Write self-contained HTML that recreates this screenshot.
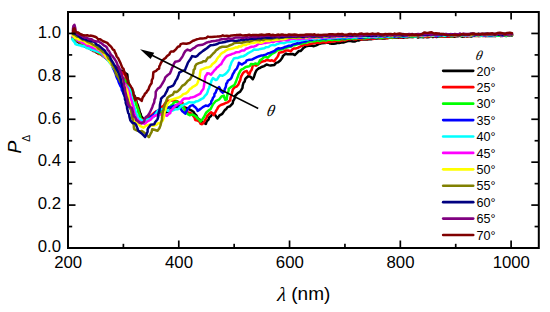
<!DOCTYPE html>
<html><head><meta charset="utf-8"><style>
html,body{margin:0;padding:0;background:#fff;}
body{width:550px;height:312px;overflow:hidden;}
svg{display:block;}
.tl{font-family:"Liberation Sans",sans-serif;font-size:16.8px;fill:#000;}
.lg{font-family:"Liberation Sans",sans-serif;font-size:12.6px;fill:#000;}
.th{font-family:"Liberation Serif",serif;font-style:italic;font-size:13.6px;fill:#000;}
.ax{font-family:"Liberation Sans",sans-serif;font-size:17.5px;fill:#000;}
</style></head><body>
<svg width="550" height="312" viewBox="0 0 550 312">
<g fill="none" stroke-width="2.5" stroke-linejoin="round" stroke-linecap="round">
<path d="M72.8,38.0 L74.3,39.5 L76.2,40.6 L77.6,41.8 L79.2,42.9 L81.1,43.5 L83.2,45.2 L84.7,46.5 L86.8,47.2 L88.5,47.7 L89.9,48.9 L91.7,49.8 L93.3,50.9 L94.9,51.1 L96.5,52.5 L98.5,53.2 L100.3,53.7 L102.3,54.8 L104.0,56.7 L105.8,58.1 L107.8,59.9 L109.8,61.2 L111.7,63.0 L113.5,64.8 L114.5,66.0 L116.2,66.9 L117.7,69.0 L119.9,70.3 L121.9,71.0 L124.1,72.4 L125.3,73.1 L127.3,74.3 L127.6,77.1 L127.6,78.9 L128.2,80.4 L128.5,82.6 L129.5,85.5 L130.6,87.4 L131.8,89.4 L132.3,91.1 L133.1,92.3 L133.5,94.7 L134.4,95.5 L135.3,97.3 L135.9,99.7 L136.5,101.3 L136.9,103.4 L137.6,104.5 L138.0,106.0 L138.9,108.6 L139.2,109.5 L139.9,112.5 L140.7,113.9 L141.0,115.8 L142.3,117.5 L143.7,119.3 L147.1,120.3 L148.2,118.9 L149.8,118.0 L151.9,117.3 L154.2,116.0 L156.1,115.1 L158.1,114.3 L160.0,113.5 L162.2,113.7 L164.9,112.6 L167.7,111.8 L169.3,110.8 L171.3,108.6 L172.7,107.7 L175.2,107.1 L177.2,106.9 L179.0,106.0 L181.3,106.7 L183.3,106.7 L185.4,107.6 L187.4,108.2 L189.3,109.4 L191.2,110.3 L193.4,111.7 L195.0,114.3 L196.4,115.5 L197.5,117.8 L199.2,119.4 L200.3,120.1 L201.7,121.8 L203.9,122.9 L205.9,124.0 L206.7,121.4 L208.5,119.7 L209.3,117.3 L211.1,115.9 L212.2,114.3 L214.5,113.6 L215.7,116.0 L217.5,118.4 L219.6,115.3 L222.3,113.8 L223.6,111.9 L224.8,110.1 L226.3,108.9 L227.5,107.1 L230.1,106.2 L232.7,103.4 L233.1,101.0 L234.2,99.4 L235.0,97.3 L235.1,95.8 L237.6,93.3 L240.2,91.6 L241.3,89.9 L242.5,87.8 L242.7,85.7 L243.6,82.7 L244.7,81.6 L245.2,79.2 L245.9,78.2 L248.4,76.0 L250.6,76.9 L252.7,79.3 L253.7,77.5 L254.3,75.9 L254.9,73.8 L256.1,71.1 L257.2,69.6 L258.9,68.2 L260.4,67.7 L262.3,66.7 L264.1,66.1 L266.5,64.5 L268.6,65.1 L270.6,65.6 L272.2,65.3 L274.4,64.9 L276.1,62.9 L277.8,62.4 L280.3,60.4 L281.4,59.0 L282.5,57.4 L282.9,55.9 L286.0,53.6 L287.5,54.3 L289.5,54.2 L292.5,53.9 L294.8,55.0 L296.3,53.6 L298.9,51.0 L300.6,51.0 L302.0,49.7 L303.5,47.8 L306.2,46.2 L308.7,45.8 L311.3,45.5 L313.9,46.2 L316.2,45.3 L318.7,44.1 L321.6,43.3 L324.8,43.1 L326.3,42.7 L328.6,42.5 L330.2,43.6 L331.8,43.8 L333.8,43.7 L335.6,43.6 L337.3,42.9 L339.2,42.9 L341.5,42.6 L343.3,42.5 L344.7,42.0 L347.1,41.2 L348.7,41.0 L350.8,41.0 L353.0,41.5 L355.1,41.4 L357.0,40.4 L358.6,40.5 L360.2,39.8 L362.5,39.6 L363.9,39.3 L366.3,39.4 L367.6,39.5 L369.4,39.1 L371.1,39.3 L373.0,38.6 L374.9,38.2 L376.8,38.5 L379.2,38.3 L380.8,38.3 L382.4,38.4 L384.7,38.6 L386.6,38.1 L388.2,38.0 L390.6,37.5 L392.4,37.8 L394.1,37.6 L396.1,37.8 L398.4,37.8 L399.7,37.4 L402.1,37.8 L403.4,37.8 L405.1,36.9 L407.2,37.2 L409.1,36.9 L410.8,36.8 L412.8,37.1 L414.2,36.8 L416.7,36.8 L418.0,37.6 L420.0,36.8 L421.9,37.0 L423.4,37.3 L425.2,36.4 L427.1,37.3 L429.3,36.9 L431.0,36.2 L432.9,37.1 L434.7,36.4 L436.5,37.0 L438.4,36.6 L440.2,36.6 L441.8,36.1 L443.7,36.6 L445.6,36.5 L447.5,36.7 L448.9,36.7 L451.1,36.6 L452.7,36.6 L454.5,36.7 L456.6,36.1 L457.9,36.3 L459.7,35.6 L462.1,36.7 L464.0,36.6 L465.8,35.8 L467.1,36.6 L468.8,36.1 L471.2,36.5 L472.5,36.0 L474.2,35.7 L476.6,35.4 L478.3,35.9 L479.8,36.1 L481.7,35.6 L483.8,35.3 L485.9,36.1 L487.5,35.9 L489.2,35.7 L491.4,35.9 L493.4,35.8 L495.0,36.0 L496.6,35.7 L498.8,35.1 L500.8,36.1 L502.4,35.4 L504.2,35.6 L506.2,36.0 L508.1,35.2 L510.1,35.8 L512.0,35.5" stroke="#000000"/>
<path d="M72.8,38.5 L74.6,39.0 L76.0,39.8 L77.4,40.8 L79.3,42.3 L81.2,43.4 L83.3,44.5 L85.2,45.9 L86.4,46.5 L88.1,47.2 L89.9,48.5 L91.5,48.7 L92.8,50.5 L94.3,51.0 L96.5,51.5 L97.7,53.1 L99.2,54.1 L100.8,54.3 L102.5,55.9 L104.4,56.9 L106.1,58.2 L108.3,59.9 L109.9,61.1 L111.4,63.3 L112.7,64.5 L113.7,65.2 L115.4,66.7 L116.8,68.9 L117.9,69.9 L120.2,71.3 L121.7,72.3 L123.7,73.7 L125.5,75.5 L125.7,78.9 L125.8,80.8 L126.5,83.2 L127.2,84.3 L127.9,86.1 L129.2,88.5 L129.8,90.1 L130.7,91.1 L131.7,93.5 L132.7,94.5 L134.0,97.5 L135.0,98.9 L135.5,100.8 L136.3,102.5 L136.7,105.1 L137.3,107.0 L138.0,108.2 L138.3,110.4 L138.6,112.4 L139.5,113.8 L139.5,115.1 L140.0,117.3 L141.9,119.2 L143.2,121.3 L145.9,119.8 L148.2,118.1 L149.7,116.1 L151.7,115.0 L154.3,112.8 L155.9,111.5 L157.9,110.6 L159.3,109.8 L160.8,108.8 L162.1,106.5 L163.5,105.8 L164.5,104.2 L165.7,102.5 L167.6,101.4 L168.9,100.7 L171.4,100.5 L173.5,100.6 L174.8,100.7 L177.3,101.2 L179.1,102.5 L180.8,103.0 L182.6,102.8 L183.1,104.5 L184.2,107.2 L184.6,108.8 L185.4,109.8 L186.7,112.1 L188.3,112.4 L190.4,113.0 L191.3,113.8 L192.6,115.3 L194.4,117.3 L195.2,120.0 L197.4,120.5 L199.5,121.8 L200.5,123.8 L202.1,124.2 L203.3,123.0 L204.3,121.6 L205.1,119.9 L206.6,117.8 L207.0,116.1 L208.9,114.0 L211.1,112.2 L212.4,113.3 L213.7,115.1 L214.9,113.3 L216.3,110.4 L217.3,108.9 L218.0,107.4 L219.2,106.0 L221.5,104.7 L223.6,104.0 L225.5,103.2 L227.5,102.4 L230.3,100.2 L230.4,98.2 L230.8,96.7 L231.5,94.7 L231.9,93.2 L232.4,91.4 L232.8,89.5 L234.7,87.2 L236.5,86.6 L238.3,84.7 L239.1,82.6 L240.4,79.9 L240.6,78.1 L241.3,76.2 L243.0,73.2 L244.6,71.6 L246.8,71.0 L248.0,73.3 L249.3,74.5 L250.5,71.3 L251.6,69.9 L252.0,68.7 L253.0,64.6 L256.0,65.7 L257.6,64.8 L259.8,63.1 L261.1,62.0 L262.5,61.5 L264.7,61.1 L266.4,60.0 L268.3,60.3 L270.2,60.7 L272.0,60.3 L274.3,61.3 L275.7,59.1 L277.1,57.5 L278.3,55.3 L279.1,52.7 L282.8,52.1 L284.2,51.3 L285.7,50.4 L288.4,50.5 L290.7,51.4 L292.3,49.4 L293.6,48.4 L296.1,48.4 L297.7,47.8 L300.7,46.3 L302.8,45.5 L304.2,44.6 L307.0,44.9 L309.3,44.3 L311.5,43.7 L314.0,43.2 L315.7,42.9 L317.7,42.5 L319.8,42.9 L321.8,42.3 L323.9,42.0 L325.8,42.7 L327.5,42.1 L330.0,41.9 L331.7,41.8 L333.4,41.5 L335.8,41.1 L337.0,41.1 L339.3,40.7 L340.8,40.9 L342.6,40.0 L344.4,40.5 L346.3,40.1 L348.5,39.2 L350.2,39.3 L352.1,38.9 L353.6,38.8 L355.7,39.6 L357.8,38.6 L359.3,38.8 L361.6,39.5 L363.1,39.1 L365.3,39.0 L367.2,39.1 L368.6,38.3 L370.9,38.4 L372.4,38.9 L374.3,38.7 L376.3,37.7 L378.5,37.7 L379.8,38.4 L381.8,37.8 L383.9,38.1 L385.3,38.1 L387.6,38.2 L389.4,37.4 L390.7,37.5 L392.5,37.9 L394.6,37.0 L396.5,37.3 L398.5,37.3 L400.1,37.2 L401.6,37.6 L403.9,36.9 L405.4,36.9 L407.2,37.3 L409.1,36.6 L410.9,36.7 L412.5,37.1 L414.4,36.7 L416.4,36.6 L418.4,36.5 L419.8,36.2 L421.8,36.2 L423.4,36.7 L425.6,37.1 L427.0,36.6 L429.3,36.2 L430.7,36.4 L432.6,35.9 L434.8,36.3 L436.4,36.4 L438.3,35.9 L439.8,36.3 L442.0,36.7 L443.6,36.4 L445.4,35.7 L447.2,36.6 L449.3,36.5 L451.2,36.1 L452.5,36.4 L454.3,35.8 L456.6,35.9 L457.9,35.4 L459.9,36.0 L462.0,35.4 L463.3,36.0 L465.4,36.0 L467.5,36.3 L469.4,35.7 L470.8,35.5 L472.7,35.4 L474.8,36.0 L476.6,36.1 L478.1,35.9 L479.8,35.3 L481.9,35.9 L483.8,35.9 L485.9,35.9 L487.7,35.1 L489.2,35.5 L491.3,35.7 L493.3,35.3 L495.1,35.9 L497.2,35.6 L498.8,35.3 L500.5,35.5 L502.6,35.9 L504.3,35.0 L506.6,35.0 L508.6,35.2 L510.3,34.9 L512.0,35.3" stroke="#ff0000"/>
<path d="M72.8,38.0 L74.2,38.6 L75.8,39.7 L77.8,40.8 L79.6,41.3 L81.0,42.2 L83.0,43.7 L84.7,44.8 L86.6,45.3 L88.2,45.8 L89.9,47.4 L91.6,48.2 L92.8,48.6 L94.4,50.1 L96.5,51.2 L97.6,51.6 L99.1,53.0 L100.8,53.8 L103.0,54.4 L104.6,56.5 L105.9,57.7 L107.1,58.9 L108.8,59.9 L109.8,62.0 L111.6,63.3 L112.4,65.4 L114.0,66.4 L114.9,68.9 L116.4,70.1 L117.4,71.1 L118.8,72.8 L120.1,74.3 L121.0,75.4 L122.2,77.5 L123.7,78.6 L124.9,80.4 L126.3,81.8 L127.2,82.7 L128.0,84.3 L128.9,86.2 L129.7,87.8 L130.8,90.4 L131.7,92.0 L133.0,94.3 L134.2,96.7 L134.5,99.1 L135.5,101.4 L135.7,103.5 L136.6,105.1 L137.1,107.5 L138.1,109.5 L138.3,111.2 L138.8,112.4 L139.4,114.2 L140.2,116.2 L140.2,117.9 L141.3,119.9 L142.4,121.9 L146.1,121.4 L147.8,119.7 L149.8,118.1 L151.8,116.7 L154.1,114.7 L155.9,114.2 L157.9,112.5 L159.9,111.5 L161.9,110.0 L164.2,109.6 L165.9,109.0 L167.8,107.9 L170.1,106.6 L171.2,105.4 L172.4,104.8 L173.9,102.5 L176.8,101.4 L178.4,103.2 L179.9,103.6 L181.1,105.9 L182.3,106.7 L184.1,108.5 L184.8,110.5 L186.2,112.3 L187.8,114.1 L189.7,115.2 L191.6,114.6 L193.6,115.0 L195.2,116.0 L196.4,116.9 L197.8,118.6 L199.1,119.6 L200.5,121.5 L202.0,119.9 L203.1,118.2 L204.1,116.7 L205.4,114.0 L206.5,112.3 L208.3,110.8 L210.7,108.9 L212.0,106.3 L213.2,104.0 L215.6,101.2 L217.3,100.4 L219.1,99.5 L221.5,96.5 L223.8,95.6 L224.4,97.8 L225.3,100.0 L226.8,99.4 L226.9,96.9 L227.4,94.9 L228.0,92.7 L228.5,91.0 L228.8,88.7 L231.7,86.6 L234.3,85.2 L235.7,82.3 L236.6,79.8 L237.5,77.4 L238.1,76.1 L238.5,74.5 L240.5,70.6 L241.6,69.4 L243.2,68.8 L245.7,66.9 L248.0,66.6 L249.7,66.1 L250.9,64.0 L253.5,64.3 L255.5,63.4 L257.9,64.3 L259.1,62.2 L259.9,60.4 L261.1,59.7 L262.9,58.3 L263.9,57.0 L266.1,57.1 L267.9,57.7 L270.0,55.5 L271.8,54.0 L273.4,53.2 L275.2,52.2 L277.0,50.5 L279.1,49.7 L280.9,49.6 L283.2,48.8 L286.1,47.7 L288.6,47.1 L290.9,46.6 L292.9,45.3 L294.5,45.3 L297.2,44.4 L299.4,43.8 L301.3,43.7 L303.5,43.1 L305.3,42.9 L307.2,42.4 L309.7,41.5 L311.9,41.0 L314.3,41.4 L315.7,41.0 L317.6,40.3 L319.9,41.1 L321.5,40.6 L323.6,40.0 L325.6,40.5 L328.1,39.8 L329.9,39.5 L331.8,40.2 L334.2,39.4 L336.1,39.7 L338.2,40.0 L339.9,39.7 L342.0,38.9 L343.4,39.3 L345.4,39.4 L347.5,38.4 L348.8,38.7 L350.8,38.2 L352.6,38.7 L354.7,38.1 L356.2,38.5 L358.2,37.9 L360.2,38.3 L361.5,37.8 L363.5,38.4 L365.2,38.2 L367.3,37.6 L369.3,37.5 L370.6,37.2 L373.0,37.6 L374.5,37.3 L376.5,37.5 L378.5,36.9 L380.1,37.9 L381.9,37.8 L383.3,37.6 L385.8,37.1 L387.5,36.7 L389.1,37.2 L390.7,37.4 L393.0,37.1 L394.7,37.2 L396.4,36.9 L398.0,36.9 L400.0,36.4 L402.0,36.3 L403.6,36.8 L405.5,36.8 L407.6,37.0 L409.1,36.0 L411.0,36.8 L412.9,36.5 L414.4,36.9 L416.4,36.4 L418.5,35.8 L420.3,36.6 L421.7,36.7 L423.5,36.3 L425.2,36.0 L427.2,36.0 L429.3,35.6 L430.9,36.1 L432.9,35.8 L434.4,35.6 L436.5,35.3 L438.2,36.2 L440.3,36.0 L441.5,36.1 L443.3,35.5 L445.3,36.1 L447.6,35.2 L449.2,35.5 L450.7,36.2 L452.9,36.1 L454.4,35.5 L456.5,35.2 L458.5,35.7 L460.0,35.2 L462.0,35.9 L463.5,35.2 L465.6,35.3 L467.2,35.9 L468.9,35.6 L470.9,35.8 L472.5,35.7 L474.8,34.9 L476.6,35.8 L477.9,35.4 L480.1,35.4 L482.0,35.6 L484.0,35.1 L485.4,35.0 L487.2,35.4 L489.6,35.8 L491.2,35.5 L493.4,35.0 L495.3,35.7 L496.9,35.7 L498.8,35.7 L500.8,34.8 L502.7,35.4 L504.6,35.0 L506.1,35.7 L508.3,34.8 L510.3,34.8 L512.0,35.2" stroke="#00ff00"/>
<path d="M72.8,36.5 L75.5,37.4 L77.6,37.5 L79.5,39.4 L81.3,39.7 L83.2,40.1 L84.8,41.0 L86.7,42.3 L88.8,43.4 L90.7,44.0 L92.4,45.5 L94.3,45.8 L96.5,47.1 L97.7,48.1 L99.8,49.6 L101.2,50.1 L102.7,51.5 L104.6,53.1 L105.7,55.1 L106.9,56.3 L107.7,58.0 L108.9,59.6 L110.0,61.4 L110.6,62.4 L111.9,65.1 L112.5,66.5 L113.2,68.6 L113.9,69.8 L114.7,71.7 L115.9,74.5 L116.1,75.7 L117.1,78.4 L117.9,79.5 L118.7,82.2 L119.6,84.1 L120.3,85.8 L121.5,87.6 L121.9,90.2 L123.0,92.0 L123.3,93.5 L124.5,95.8 L125.5,98.3 L125.8,100.5 L127.0,102.3 L128.1,103.8 L128.8,106.4 L129.7,107.9 L131.1,109.2 L131.7,110.6 L133.2,112.1 L134.0,114.4 L135.0,115.6 L136.6,117.4 L138.0,118.3 L139.8,119.9 L141.8,121.4 L144.0,121.2 L146.2,121.0 L147.9,119.7 L150.1,117.6 L151.2,116.2 L152.6,115.7 L154.3,114.1 L155.9,112.1 L157.9,110.8 L160.1,110.1 L161.8,109.2 L164.0,109.0 L166.0,108.0 L167.8,107.4 L169.9,107.5 L172.5,106.3 L174.7,105.6 L177.1,105.0 L178.2,106.3 L179.8,107.5 L181.0,109.3 L182.5,111.4 L185.2,113.6 L186.5,111.1 L187.6,109.1 L189.1,107.4 L190.4,105.9 L192.9,105.1 L194.3,106.6 L195.6,107.6 L196.9,109.1 L197.7,110.9 L200.6,108.9 L202.8,107.1 L205.6,105.6 L208.1,106.1 L209.5,104.6 L211.1,103.2 L211.3,101.3 L212.4,99.7 L213.0,97.7 L214.3,96.2 L214.5,93.8 L215.6,92.7 L216.4,90.3 L217.6,88.5 L219.0,87.0 L219.9,88.4 L220.8,91.0 L222.9,92.7 L224.3,91.4 L224.8,88.8 L225.8,86.9 L226.3,83.7 L227.2,82.7 L227.8,80.8 L230.3,79.3 L231.5,77.7 L232.9,74.0 L234.1,72.3 L234.8,70.6 L237.0,68.4 L237.7,66.3 L238.4,65.0 L238.9,62.8 L241.9,64.6 L244.2,62.9 L245.6,62.4 L246.7,60.4 L249.3,59.7 L251.9,59.6 L254.7,58.1 L257.4,56.9 L259.2,56.2 L261.0,55.6 L262.9,55.4 L264.4,54.9 L265.8,54.6 L267.7,53.5 L269.8,52.9 L272.2,51.9 L274.5,51.0 L276.2,49.3 L278.2,48.3 L280.6,48.4 L282.8,48.1 L285.0,46.9 L286.7,46.5 L289.1,45.6 L290.6,46.1 L292.8,44.6 L294.5,44.1 L297.3,43.3 L299.0,43.5 L301.8,42.1 L303.5,41.7 L305.4,41.6 L307.0,40.5 L309.7,39.9 L312.0,40.0 L314.2,39.0 L315.9,39.4 L318.0,38.9 L319.6,39.4 L321.8,38.9 L323.8,38.6 L326.0,39.2 L327.8,38.2 L329.7,38.6 L332.3,38.1 L333.9,38.3 L336.3,38.6 L338.1,37.9 L340.0,38.6 L341.9,37.8 L343.6,38.2 L345.5,38.4 L347.5,37.8 L349.4,37.8 L350.6,37.9 L352.9,37.1 L354.6,37.7 L356.5,37.0 L357.9,37.7 L360.2,37.8 L361.5,37.5 L363.8,37.6 L365.7,37.0 L367.5,37.0 L368.8,37.0 L371.1,37.0 L372.5,37.3 L374.7,37.2 L376.4,36.6 L378.0,37.1 L379.8,36.4 L381.9,36.2 L383.8,36.8 L385.7,36.6 L387.0,36.8 L389.4,36.4 L390.6,36.0 L392.5,35.9 L394.7,36.8 L396.4,36.0 L398.1,36.5 L400.0,36.0 L401.9,36.3 L403.7,36.6 L405.6,36.3 L407.1,35.9 L409.4,36.4 L411.0,35.9 L412.9,36.1 L414.8,36.0 L416.4,36.1 L418.3,35.5 L420.3,36.3 L421.8,35.9 L423.6,36.1 L425.3,35.4 L427.0,35.3 L429.4,35.6 L430.8,35.5 L432.5,35.3 L434.8,36.1 L436.6,35.8 L438.2,36.0 L439.9,35.3 L441.5,35.5 L443.9,35.5 L445.3,35.6 L447.4,35.6 L449.2,35.3 L451.1,35.0 L452.9,35.5 L454.5,35.5 L456.7,35.3 L458.2,34.9 L460.0,35.2 L461.6,34.8 L463.5,34.9 L465.3,35.1 L467.6,35.8 L469.1,34.9 L470.8,35.3 L472.7,35.3 L474.4,35.4 L476.3,35.0 L478.4,34.9 L479.8,35.2 L482.0,34.7 L483.6,35.4 L486.0,35.6 L487.5,35.5 L489.5,35.6 L491.3,35.2 L493.1,35.5 L495.3,35.3 L497.2,34.7 L498.7,34.8 L500.8,34.6 L502.7,35.5 L504.7,34.6 L506.7,34.8 L508.0,34.6 L510.1,35.1 L512.0,35.0" stroke="#0000ff"/>
<path d="M72.3,39.2 L73.7,41.2 L74.7,42.4 L75.4,44.0 L77.3,44.8 L80.6,45.5 L82.5,46.3 L84.1,46.1 L87.2,48.3 L89.0,48.3 L91.0,49.4 L92.7,50.1 L94.6,50.4 L96.1,51.3 L97.7,51.7 L99.3,52.0 L101.3,53.2 L102.7,55.0 L103.9,56.5 L105.7,57.7 L107.0,59.4 L108.4,60.3 L109.3,62.2 L111.0,64.2 L112.3,65.4 L112.9,67.0 L113.7,68.0 L115.2,70.4 L116.0,71.1 L116.9,73.6 L117.7,75.2 L119.0,76.2 L120.3,77.7 L121.1,80.1 L122.8,81.2 L123.7,83.5 L125.3,84.7 L126.5,86.2 L127.9,87.5 L129.7,88.3 L130.3,91.2 L130.6,92.8 L131.1,95.3 L131.6,97.1 L131.9,99.3 L132.6,101.1 L133.2,102.8 L133.6,105.4 L134.0,107.1 L135.0,108.6 L135.8,111.5 L136.0,113.1 L137.3,114.9 L137.5,117.5 L140.1,119.2 L141.7,120.1 L144.3,121.0 L147.4,119.7 L149.8,119.0 L152.0,117.9 L154.1,116.4 L155.8,113.9 L157.3,111.6 L158.3,110.4 L160.1,109.4 L162.7,109.0 L166.1,109.9 L167.8,110.9 L170.1,110.6 L171.7,110.9 L174.1,109.8 L176.2,109.1 L178.1,109.2 L179.4,108.0 L180.8,106.6 L182.6,105.5 L184.8,104.2 L186.5,103.8 L188.8,102.2 L190.1,102.3 L192.4,102.4 L194.1,102.6 L196.0,101.4 L198.2,101.0 L200.0,99.9 L201.7,98.9 L203.2,98.2 L204.5,96.4 L206.6,94.2 L207.7,91.8 L208.2,89.7 L209.2,87.7 L209.6,86.5 L210.3,84.1 L211.0,82.6 L211.5,80.6 L212.9,78.1 L215.9,80.1 L217.0,79.7 L218.1,77.8 L220.0,75.1 L222.5,75.8 L225.3,74.1 L227.5,71.9 L228.5,70.3 L229.4,68.8 L229.9,66.5 L230.7,64.7 L231.6,62.1 L232.9,60.1 L233.8,58.5 L235.8,58.0 L238.0,57.9 L240.0,57.0 L241.5,56.5 L243.6,56.2 L245.4,55.2 L248.3,53.1 L250.3,52.0 L252.2,51.0 L254.0,49.6 L256.0,49.8 L258.8,49.4 L261.5,48.7 L264.2,48.3 L266.1,47.2 L268.5,47.1 L270.2,45.6 L272.5,44.9 L274.9,45.3 L276.9,44.1 L278.6,43.7 L280.7,42.9 L282.5,42.9 L284.3,43.2 L286.3,42.4 L288.3,41.7 L290.4,42.1 L292.4,41.5 L294.9,41.2 L296.3,40.2 L298.1,40.7 L300.1,40.5 L301.8,40.2 L304.0,39.7 L305.9,39.2 L307.4,39.6 L309.3,38.7 L311.4,38.4 L313.1,38.9 L315.0,39.2 L316.6,38.3 L318.6,38.7 L321.0,38.3 L322.7,38.1 L324.5,37.8 L326.5,38.1 L328.3,38.5 L330.1,38.5 L332.0,37.9 L334.1,37.8 L336.0,37.8 L338.1,37.4 L339.9,37.4 L341.8,37.2 L343.7,37.2 L345.5,37.3 L347.3,37.5 L348.8,36.9 L351.0,37.3 L352.5,37.5 L354.5,37.3 L356.4,37.5 L358.3,36.9 L360.0,36.6 L361.9,36.5 L363.9,36.7 L365.8,36.8 L367.1,36.7 L369.0,37.0 L370.8,36.6 L372.4,36.4 L374.7,37.0 L376.6,37.0 L378.2,36.3 L379.7,36.0 L382.1,36.5 L383.8,36.1 L385.4,35.8 L387.3,36.5 L388.8,36.7 L391.0,35.8 L392.8,36.3 L394.4,35.6 L396.6,36.2 L398.0,35.6 L399.7,35.6 L401.5,36.2 L403.9,36.2 L405.8,36.3 L407.2,35.8 L409.3,35.4 L410.8,35.6 L413.0,35.3 L414.6,36.2 L416.4,36.2 L418.2,35.6 L419.8,35.6 L421.6,35.3 L423.5,35.7 L425.5,35.7 L427.1,35.0 L429.3,35.1 L431.0,36.0 L432.6,35.8 L434.7,35.4 L436.3,34.9 L438.4,35.3 L440.0,35.3 L442.1,35.1 L443.9,35.7 L445.4,35.8 L447.5,34.7 L449.4,35.3 L450.7,35.6 L452.5,35.5 L454.7,35.1 L456.4,35.0 L458.4,34.7 L460.1,34.7 L462.0,35.6 L463.6,35.0 L465.6,35.6 L467.3,34.6 L468.9,35.5 L470.7,34.8 L472.5,35.0 L474.5,34.6 L476.5,35.4 L478.3,34.7 L479.8,35.5 L481.9,35.4 L483.6,35.1 L485.4,34.8 L487.7,35.2 L489.6,35.0 L491.3,35.0 L493.5,35.2 L494.9,34.7 L496.7,35.3 L498.5,35.1 L500.9,35.1 L502.6,34.6 L504.2,35.1 L506.4,35.3 L508.4,34.8 L510.3,34.9 L512.0,34.8" stroke="#00ffff"/>
<path d="M72.8,36.5 L74.7,37.5 L76.2,38.7 L77.4,40.1 L79.0,40.9 L80.5,41.1 L82.2,42.7 L84.9,43.6 L86.9,45.3 L89.3,45.8 L90.8,46.7 L93.0,47.9 L94.7,48.1 L96.2,49.0 L98.1,49.9 L99.6,50.7 L101.5,52.3 L102.9,53.9 L104.0,55.4 L105.3,57.0 L107.0,58.5 L108.5,59.3 L109.7,61.2 L111.0,63.2 L112.0,64.5 L112.8,66.0 L114.2,67.5 L114.8,68.8 L116.2,70.8 L117.2,72.4 L118.2,74.2 L119.2,75.4 L119.9,76.6 L121.1,78.1 L121.9,80.0 L122.9,81.6 L124.2,83.2 L125.5,84.6 L126.7,87.0 L127.7,88.5 L128.5,90.7 L129.3,92.8 L130.1,94.7 L130.3,97.3 L130.9,98.9 L131.7,101.1 L132.0,103.0 L132.6,104.9 L133.2,106.9 L133.6,108.6 L133.9,111.1 L134.2,113.0 L135.1,115.0 L135.6,117.0 L136.6,118.5 L137.4,119.4 L138.4,121.1 L140.4,122.2 L141.6,123.0 L144.8,123.8 L147.4,121.3 L149.1,120.6 L150.8,119.4 L152.7,116.9 L155.1,115.7 L157.7,114.8 L160.7,114.4 L163.3,113.4 L165.0,114.9 L166.9,115.8 L169.1,113.7 L170.2,113.1 L170.9,110.5 L172.4,109.3 L173.1,108.2 L175.1,106.4 L176.7,104.8 L178.8,103.7 L180.6,102.7 L182.2,100.3 L183.6,98.8 L186.0,98.5 L189.1,98.5 L190.6,97.4 L192.5,97.2 L194.7,96.6 L196.4,95.6 L198.4,94.6 L200.3,93.6 L201.6,91.2 L203.3,89.0 L203.6,87.7 L204.1,85.1 L204.4,82.9 L204.7,81.4 L204.8,79.3 L205.4,76.2 L206.5,74.9 L207.2,73.3 L209.2,73.6 L211.0,74.6 L213.3,71.8 L214.7,69.9 L215.9,69.0 L216.7,67.6 L218.2,66.7 L219.8,65.0 L221.2,64.1 L222.8,61.0 L223.7,59.8 L225.1,57.6 L226.8,56.0 L229.0,55.2 L231.0,54.5 L232.2,53.9 L234.1,53.4 L236.4,52.2 L239.0,52.1 L241.9,50.5 L244.3,50.5 L246.0,48.7 L248.5,48.0 L249.9,47.3 L251.8,46.7 L254.2,46.4 L256.1,45.8 L257.8,44.5 L259.4,43.7 L261.1,43.7 L263.7,43.0 L265.8,42.9 L267.7,42.4 L269.4,42.3 L271.2,41.5 L273.3,42.1 L275.4,40.9 L277.1,41.1 L279.0,41.3 L280.5,40.7 L282.9,40.1 L284.7,39.9 L286.9,40.2 L288.9,39.9 L290.5,39.1 L293.0,38.7 L294.8,38.7 L296.8,39.0 L298.4,38.9 L300.6,39.1 L301.9,38.3 L304.0,38.9 L305.6,38.0 L307.5,38.4 L309.6,38.6 L311.7,37.9 L313.2,37.5 L315.2,38.2 L316.9,38.0 L319.1,37.6 L320.5,37.6 L322.6,37.7 L324.3,36.9 L326.2,37.6 L327.8,37.4 L330.1,37.4 L331.6,37.4 L333.8,37.2 L335.8,37.3 L337.4,36.7 L339.1,36.5 L341.1,36.8 L343.2,36.5 L345.3,36.4 L346.7,36.9 L348.8,36.1 L350.7,36.9 L352.7,36.6 L354.4,36.6 L356.0,36.2 L358.1,36.0 L360.0,36.6 L361.9,36.0 L363.4,36.0 L365.6,35.6 L367.4,35.7 L369.4,35.6 L371.1,36.5 L372.5,36.2 L374.4,36.2 L376.6,36.3 L377.9,35.6 L380.0,36.0 L381.9,36.3 L383.7,35.8 L385.3,36.0 L387.3,35.2 L389.2,35.7 L390.7,35.9 L392.9,35.5 L394.7,35.9 L396.5,35.8 L398.3,35.9 L399.7,35.3 L402.1,35.9 L403.4,35.5 L405.2,35.7 L407.3,35.9 L409.0,35.8 L410.6,35.4 L412.5,34.9 L414.5,35.8 L416.1,35.0 L418.1,35.4 L419.8,35.3 L421.6,35.7 L423.6,34.9 L425.2,35.5 L427.1,35.3 L429.2,35.3 L431.2,35.1 L432.8,35.1 L434.4,35.1 L436.6,35.2 L437.9,34.6 L440.0,34.7 L441.7,34.5 L443.3,34.6 L445.5,34.6 L447.2,34.9 L449.4,35.1 L450.7,34.5 L452.4,34.7 L454.5,35.3 L456.5,35.0 L458.3,35.0 L460.1,34.5 L462.1,34.5 L463.4,35.2 L465.6,34.8 L467.5,35.3 L468.9,35.3 L471.2,35.0 L472.9,35.0 L474.6,34.7 L476.3,34.7 L478.4,35.1 L479.7,34.9 L481.6,34.3 L483.9,35.1 L485.4,34.9 L487.9,34.7 L489.1,34.8 L491.4,34.4 L492.9,34.7 L495.3,35.0 L496.9,34.6 L498.5,34.3 L500.8,35.0 L502.6,35.0 L504.5,34.1 L506.1,34.8 L508.3,34.3 L510.0,34.9 L512.0,34.6" stroke="#ff00ff"/>
<path d="M72.8,35.5 L74.8,37.5 L77.3,38.7 L79.2,39.8 L80.7,40.0 L82.5,40.7 L85.1,41.7 L87.0,43.4 L88.9,43.3 L90.7,44.5 L92.9,45.2 L94.8,46.4 L96.3,47.3 L98.0,49.3 L99.8,49.6 L101.1,51.0 L103.0,52.7 L104.4,54.6 L105.4,56.1 L107.2,58.1 L108.4,60.0 L109.8,61.6 L110.7,63.3 L112.2,65.5 L112.8,66.2 L113.8,67.5 L115.1,69.6 L116.3,70.6 L116.9,72.8 L118.2,74.3 L118.7,76.1 L120.1,78.4 L121.4,79.9 L122.4,82.4 L123.7,84.1 L124.9,86.4 L126.1,88.3 L126.8,89.7 L127.5,92.1 L127.7,93.5 L128.2,95.6 L128.5,97.8 L128.9,100.7 L129.3,102.7 L130.1,105.2 L130.8,107.1 L131.2,110.5 L131.2,112.7 L132.0,114.6 L132.6,117.3 L133.5,118.3 L134.5,120.3 L135.8,122.2 L137.4,123.0 L139.2,124.7 L140.4,126.2 L143.4,127.7 L146.3,125.6 L149.4,124.8 L152.8,125.9 L156.6,124.8 L157.9,123.3 L159.6,123.3 L161.0,121.8 L162.7,120.7 L163.3,118.9 L164.0,116.7 L164.3,113.8 L164.8,111.6 L165.3,110.1 L166.0,107.8 L167.0,105.3 L167.8,103.2 L169.4,101.9 L170.6,99.9 L173.0,99.2 L175.4,98.4 L177.6,97.8 L179.3,97.1 L181.3,96.1 L183.2,94.1 L185.7,93.5 L187.9,91.7 L189.8,89.0 L191.3,88.4 L192.4,87.1 L194.7,85.9 L196.8,84.5 L197.5,83.0 L198.4,80.5 L198.9,79.3 L199.7,76.9 L200.0,73.8 L200.3,71.9 L200.7,69.9 L203.9,68.6 L206.8,67.4 L208.8,67.2 L210.8,66.4 L212.2,64.3 L214.5,62.5 L215.9,61.2 L216.7,59.5 L218.3,57.1 L219.6,56.0 L220.8,53.9 L222.2,52.9 L224.4,51.8 L226.2,50.3 L228.6,49.2 L230.5,48.9 L232.8,48.6 L235.6,47.3 L237.6,47.5 L238.9,46.2 L241.2,46.4 L243.3,44.8 L245.9,45.1 L247.4,43.9 L249.4,43.7 L250.5,42.8 L253.6,43.0 L256.2,42.4 L258.1,42.0 L260.4,42.7 L262.2,42.4 L264.0,41.4 L265.9,40.9 L267.9,40.9 L269.4,41.1 L271.6,39.9 L273.2,40.3 L274.8,40.0 L276.9,39.7 L278.8,39.4 L280.7,39.1 L282.9,39.3 L284.6,39.0 L286.3,38.6 L288.5,37.8 L290.8,37.7 L292.7,37.6 L294.5,37.7 L296.4,38.1 L298.4,37.4 L300.1,37.8 L302.2,37.1 L304.3,36.9 L306.0,37.6 L308.0,37.2 L309.3,36.6 L311.6,37.1 L313.0,36.9 L315.2,37.4 L317.0,37.1 L318.7,37.2 L320.7,37.0 L322.4,36.1 L324.3,36.7 L326.3,36.6 L327.8,36.3 L330.0,36.8 L332.2,36.0 L333.6,36.3 L335.9,36.4 L337.3,35.7 L339.3,36.1 L341.5,35.9 L342.9,36.5 L345.0,36.5 L346.8,35.5 L348.8,36.1 L350.6,35.5 L352.2,35.6 L354.7,36.3 L356.3,35.6 L358.0,35.8 L360.0,35.4 L362.1,35.5 L363.9,36.2 L365.5,36.1 L367.4,36.1 L369.2,35.2 L371.0,35.6 L373.0,36.1 L374.7,35.1 L376.5,35.0 L378.2,35.7 L380.0,35.0 L381.6,35.6 L383.5,35.0 L385.6,35.2 L387.5,35.5 L389.0,35.3 L390.9,34.9 L392.5,35.2 L394.9,34.8 L396.3,35.1 L398.4,35.7 L399.7,35.3 L401.6,35.5 L403.4,35.0 L405.3,34.6 L407.4,35.0 L409.3,35.4 L410.9,35.6 L412.7,35.6 L414.8,35.4 L416.4,35.0 L418.1,35.5 L419.9,34.8 L421.9,35.2 L423.4,34.6 L425.5,34.4 L427.3,35.3 L429.0,35.3 L431.2,34.8 L433.0,35.3 L434.6,34.6 L436.3,34.4 L438.3,34.7 L440.1,34.8 L442.1,34.4 L443.7,35.1 L445.5,34.7 L447.6,34.8 L448.8,35.1 L451.0,34.8 L452.6,34.5 L454.8,35.2 L456.2,35.0 L458.2,34.4 L460.2,34.4 L461.7,35.1 L463.6,34.9 L465.4,34.6 L467.2,34.9 L468.8,34.8 L471.1,35.2 L472.9,34.5 L474.4,34.6 L476.1,34.9 L478.3,34.9 L479.7,35.0 L482.1,34.1 L483.7,34.1 L485.7,34.7 L487.4,35.0 L489.5,34.2 L491.2,34.1 L493.5,35.0 L495.1,35.1 L497.3,34.5 L498.9,34.7 L500.7,34.4 L502.4,34.9 L504.3,34.5 L506.5,35.0 L508.2,34.1 L510.0,35.0 L512.0,34.5" stroke="#ffff00"/>
<path d="M72.8,34.0 L75.1,35.0 L77.3,36.8 L79.8,37.0 L81.1,38.6 L82.9,40.0 L85.0,40.1 L87.1,41.6 L88.8,42.3 L91.0,43.2 L92.8,44.5 L94.7,45.5 L96.6,46.5 L98.4,48.6 L99.9,49.2 L101.4,50.5 L103.1,52.2 L104.6,52.8 L106.3,53.6 L107.5,56.4 L108.8,58.9 L110.5,60.3 L111.5,61.9 L112.0,64.6 L113.2,66.0 L114.2,68.5 L115.1,70.3 L115.7,72.8 L116.4,74.8 L117.6,76.4 L118.9,78.3 L119.5,80.0 L120.8,82.3 L121.9,83.8 L122.9,85.6 L123.5,87.4 L124.1,89.9 L124.8,90.9 L125.2,93.2 L126.0,94.6 L126.3,96.9 L127.1,97.9 L127.6,99.5 L128.2,101.9 L129.0,103.5 L129.5,106.0 L130.5,108.3 L131.2,110.7 L131.6,113.0 L132.1,115.4 L132.0,117.3 L132.8,119.2 L132.7,120.9 L133.4,124.0 L133.8,125.2 L133.9,127.7 L134.3,129.1 L137.2,130.6 L139.4,131.4 L141.9,131.0 L144.7,133.1 L146.0,134.3 L147.1,135.3 L148.9,137.2 L150.6,133.7 L151.6,132.1 L152.2,129.3 L154.4,129.8 L157.5,130.8 L159.4,128.2 L160.5,125.4 L161.0,123.2 L161.6,120.8 L162.0,119.6 L162.0,117.8 L162.2,115.7 L162.5,113.7 L162.8,111.6 L163.6,109.7 L163.6,108.2 L164.5,106.0 L164.8,104.6 L165.6,103.1 L166.4,100.5 L167.5,97.7 L168.8,96.7 L170.5,95.7 L172.8,94.7 L174.3,91.8 L176.6,92.0 L178.1,90.9 L179.6,89.5 L180.8,87.9 L182.2,85.9 L184.8,84.4 L185.9,83.2 L187.4,81.2 L188.7,80.1 L189.8,79.6 L191.2,77.2 L192.4,75.1 L193.3,73.2 L193.7,69.9 L194.9,68.6 L195.1,66.2 L196.6,64.1 L198.9,63.1 L202.0,62.3 L203.3,61.3 L205.8,61.2 L206.9,59.2 L208.1,57.6 L209.7,57.3 L211.5,55.3 L213.2,53.5 L215.0,51.8 L216.3,50.1 L218.2,48.9 L219.5,47.8 L222.3,46.8 L225.0,46.7 L226.4,46.7 L228.3,46.1 L230.0,45.2 L232.3,44.4 L234.4,43.0 L236.9,42.8 L239.0,42.5 L241.2,43.0 L243.3,42.3 L245.5,41.9 L247.7,41.2 L249.6,41.7 L251.7,40.9 L253.8,40.1 L255.8,40.0 L257.5,39.9 L259.9,40.4 L261.7,39.6 L263.3,40.0 L265.6,38.9 L267.2,38.9 L269.1,38.9 L271.1,39.2 L272.9,38.5 L275.0,38.0 L276.8,37.8 L279.0,38.2 L280.7,37.8 L282.7,37.4 L284.7,37.3 L286.8,37.1 L289.0,37.4 L290.7,37.5 L292.6,37.3 L294.8,37.3 L296.7,37.5 L298.4,36.9 L300.2,37.2 L302.2,37.2 L303.9,37.1 L306.2,36.4 L308.0,36.1 L309.8,36.4 L311.6,36.1 L313.3,36.4 L314.8,36.7 L317.1,36.8 L318.9,36.3 L320.5,36.0 L322.7,36.0 L324.6,36.1 L326.2,36.0 L328.2,36.0 L330.3,36.1 L332.0,36.0 L333.8,35.7 L335.3,35.9 L337.6,35.5 L339.6,35.5 L341.5,35.8 L343.0,35.5 L345.1,35.9 L347.0,36.1 L348.5,35.3 L350.6,35.3 L352.4,35.4 L354.3,35.1 L356.3,35.7 L358.1,35.9 L359.7,35.7 L362.0,34.9 L363.5,35.2 L365.3,35.6 L367.2,35.1 L369.4,35.4 L370.7,35.4 L373.0,35.5 L374.3,35.4 L376.2,35.1 L378.2,35.0 L379.8,35.4 L381.7,35.6 L383.8,35.7 L385.2,35.0 L387.3,35.4 L389.2,35.1 L390.8,35.7 L392.5,34.7 L394.7,35.5 L396.4,34.7 L398.3,34.8 L399.8,35.5 L401.6,35.4 L403.6,35.3 L405.1,35.1 L407.5,34.4 L409.4,35.4 L411.2,35.0 L412.7,35.2 L414.8,34.8 L416.2,35.3 L418.2,35.1 L419.9,34.6 L422.0,35.1 L423.3,35.0 L425.5,34.3 L427.2,35.2 L429.4,34.7 L430.7,34.8 L433.0,34.5 L434.8,34.8 L436.2,34.7 L438.0,34.8 L439.7,35.1 L441.5,35.1 L443.8,34.7 L445.3,34.5 L447.5,34.5 L449.1,34.4 L450.8,34.1 L452.8,35.0 L454.6,35.0 L456.1,34.5 L457.9,35.0 L460.1,35.0 L462.0,35.0 L463.5,34.4 L465.6,34.8 L467.4,34.4 L469.4,34.1 L471.2,34.1 L473.0,34.8 L474.6,34.7 L476.4,34.4 L478.5,34.0 L479.9,34.5 L481.7,34.2 L483.5,34.3 L485.4,34.9 L487.6,34.3 L489.2,34.4 L491.2,34.2 L493.3,34.8 L495.4,34.8 L497.1,34.3 L498.5,34.0 L501.0,34.4 L502.5,34.5 L504.6,34.9 L506.7,34.8 L507.9,34.4 L510.0,34.5 L512.0,34.4" stroke="#808000"/>
<path d="M72.8,33.0 L74.9,33.5 L77.6,35.2 L79.2,36.4 L80.6,37.5 L82.1,38.5 L84.9,39.1 L86.9,40.2 L88.6,40.4 L90.9,41.3 L92.8,41.4 L94.7,42.1 L96.2,44.3 L98.4,45.3 L100.2,46.8 L101.5,47.9 L102.8,49.0 L104.7,50.5 L105.5,51.9 L107.1,54.0 L108.2,54.9 L110.0,56.5 L110.6,58.7 L111.8,60.8 L113.3,63.1 L114.1,64.9 L115.2,66.2 L116.0,68.3 L116.9,69.6 L118.3,72.4 L118.9,74.0 L119.8,76.0 L120.7,78.9 L121.0,80.8 L121.2,82.7 L122.0,84.2 L122.3,86.1 L122.9,87.4 L123.3,89.3 L123.5,91.4 L123.9,93.1 L124.3,94.6 L125.0,97.2 L124.9,99.1 L125.8,100.8 L125.7,102.8 L126.4,104.9 L127.0,106.6 L127.1,108.4 L127.5,110.0 L128.3,113.1 L129.2,114.4 L129.4,116.6 L130.4,120.5 L131.6,121.8 L132.5,123.0 L134.5,123.2 L136.0,124.6 L136.6,126.3 L137.6,128.7 L138.1,130.5 L140.1,132.2 L141.8,133.6 L143.6,135.3 L145.1,137.0 L146.5,134.1 L147.6,131.8 L147.6,129.6 L148.4,127.8 L149.4,126.6 L150.7,124.7 L154.4,124.2 L154.9,122.6 L156.2,120.9 L157.4,119.5 L158.3,116.7 L158.2,114.5 L158.9,111.9 L159.4,110.5 L159.8,107.8 L159.9,105.1 L160.3,103.1 L160.9,100.2 L161.1,98.7 L162.8,96.8 L164.4,95.8 L165.7,93.2 L166.7,91.4 L167.4,89.9 L168.2,87.7 L170.8,86.7 L173.1,85.6 L174.6,83.3 L175.3,81.4 L176.4,79.6 L177.1,78.7 L177.8,76.8 L178.6,75.0 L179.2,72.7 L182.3,70.9 L184.9,70.3 L185.8,67.8 L186.5,66.4 L187.8,63.0 L188.6,61.6 L190.3,59.2 L190.9,58.3 L192.1,56.1 L195.4,56.8 L197.3,55.8 L199.0,54.0 L200.9,52.6 L203.0,50.9 L205.2,49.4 L206.9,48.3 L208.6,46.8 L210.5,45.2 L213.2,44.9 L215.6,44.5 L217.8,43.8 L219.6,42.7 L221.9,42.5 L225.0,42.0 L226.6,41.4 L228.7,41.1 L230.7,40.6 L232.5,40.6 L234.4,40.8 L236.4,40.9 L238.2,40.6 L240.2,40.2 L241.8,39.8 L243.7,40.1 L245.9,39.3 L247.7,39.5 L249.4,39.1 L251.6,38.5 L253.7,38.9 L255.6,38.8 L257.7,38.3 L259.5,38.3 L261.4,38.4 L263.6,37.6 L265.7,37.4 L267.1,37.7 L268.9,37.8 L271.1,37.8 L273.0,37.6 L275.1,37.2 L276.9,36.6 L279.0,37.3 L281.0,37.2 L282.8,37.3 L284.6,36.8 L286.7,36.4 L288.7,36.2 L290.5,36.4 L292.6,36.6 L294.4,36.7 L296.3,36.4 L298.5,36.2 L300.3,36.3 L302.3,36.8 L304.2,36.9 L305.9,35.9 L307.5,36.5 L309.5,35.8 L311.7,36.5 L313.4,36.4 L314.8,36.5 L317.1,35.8 L318.9,36.5 L321.0,36.5 L322.5,36.4 L324.3,35.9 L326.3,35.8 L328.4,36.2 L329.8,36.5 L332.0,35.9 L334.1,35.7 L335.9,35.9 L337.6,35.4 L339.2,35.5 L341.5,35.5 L342.9,36.0 L344.7,35.2 L347.1,35.4 L348.8,35.7 L350.5,35.6 L352.2,35.7 L354.2,35.6 L356.2,35.5 L358.3,35.1 L359.9,35.3 L362.1,35.5 L363.7,35.8 L365.5,35.4 L367.2,35.9 L369.4,35.7 L370.7,35.7 L372.9,35.7 L374.7,35.2 L376.2,35.7 L377.9,35.1 L380.0,35.5 L381.6,35.6 L383.8,34.9 L385.3,34.8 L387.1,35.6 L389.4,34.8 L390.9,34.6 L393.0,35.1 L394.7,35.2 L396.2,35.1 L398.1,35.3 L399.7,34.9 L402.1,35.4 L403.9,35.4 L405.6,35.1 L407.3,35.2 L409.4,34.6 L411.1,35.0 L412.6,35.0 L414.8,35.1 L416.5,35.0 L417.9,35.3 L419.8,35.1 L422.0,34.2 L423.5,34.6 L425.6,34.8 L427.4,35.0 L429.1,34.5 L430.8,35.0 L432.5,34.4 L434.8,34.2 L436.5,34.3 L438.1,34.2 L439.9,34.1 L441.8,35.0 L443.7,34.0 L445.7,35.0 L447.5,34.9 L449.3,34.6 L450.7,34.4 L452.4,34.3 L454.6,34.6 L456.3,34.2 L457.9,34.9 L459.8,33.9 L462.1,34.9 L463.8,34.3 L465.7,34.3 L467.3,34.3 L469.1,34.8 L470.7,33.8 L472.6,33.8 L474.5,34.1 L476.2,34.8 L478.3,33.8 L480.3,34.5 L481.7,33.9 L483.6,34.1 L485.6,33.8 L487.6,33.8 L489.1,34.1 L491.6,34.1 L492.9,34.0 L494.8,34.5 L496.6,33.8 L498.6,34.8 L500.5,34.3 L502.7,34.7 L504.7,33.7 L506.5,33.9 L508.3,34.1 L510.3,33.9 L512.0,34.2" stroke="#000080"/>
<path d="M72.9,31.0 L73.0,28.7 L73.4,26.0 L74.4,24.8 L74.8,26.0 L75.3,28.2 L75.6,31.2 L77.4,34.2 L78.9,34.5 L80.6,35.4 L82.7,36.4 L84.8,37.7 L86.9,37.7 L89.1,39.3 L91.2,38.9 L92.9,40.3 L94.4,41.1 L96.5,41.4 L98.4,41.2 L100.3,42.7 L101.8,43.5 L103.8,45.4 L105.8,46.3 L107.0,47.6 L107.8,50.2 L108.9,50.9 L110.0,52.8 L111.2,55.1 L112.3,55.8 L113.8,57.9 L114.8,59.3 L116.1,61.4 L116.7,62.6 L117.7,65.3 L118.5,66.4 L119.6,68.7 L120.2,70.8 L121.0,72.3 L121.9,75.1 L122.5,77.1 L123.2,78.0 L123.5,80.1 L123.6,82.1 L124.0,83.8 L124.1,86.4 L124.9,87.5 L125.1,90.0 L125.3,92.1 L125.8,93.6 L126.1,95.9 L126.6,97.7 L127.4,100.1 L127.6,102.3 L127.8,104.0 L129.5,106.5 L131.8,108.0 L132.8,111.5 L133.2,113.8 L133.8,116.4 L135.3,117.5 L136.1,120.1 L137.5,120.9 L139.2,122.5 L141.4,123.4 L143.6,122.2 L144.4,120.7 L144.8,118.5 L145.9,117.1 L147.7,115.8 L148.8,114.3 L149.9,112.4 L151.0,110.0 L152.3,107.2 L153.1,104.7 L154.2,102.4 L154.5,99.7 L155.3,98.2 L155.6,96.0 L155.7,94.5 L155.7,91.9 L156.9,89.9 L157.8,88.6 L160.0,87.2 L161.7,84.6 L163.0,82.5 L163.9,80.8 L164.6,79.5 L165.3,77.3 L167.8,75.0 L169.9,73.5 L171.2,70.4 L172.1,67.9 L173.2,66.3 L173.7,64.1 L175.2,61.8 L177.7,61.2 L179.8,60.5 L180.7,58.9 L182.2,57.0 L183.0,55.5 L183.8,53.7 L185.4,51.0 L187.5,49.6 L190.1,50.7 L193.0,48.4 L194.7,47.7 L196.4,46.1 L198.6,45.2 L200.5,45.0 L202.3,44.8 L204.4,43.9 L206.3,42.7 L208.2,42.1 L209.7,41.9 L211.8,41.2 L214.5,41.1 L217.1,40.5 L219.1,40.2 L220.6,39.4 L223.1,38.9 L224.9,39.3 L226.8,38.9 L228.5,38.2 L230.6,38.7 L232.2,38.8 L234.6,37.9 L236.0,37.4 L238.0,37.4 L239.8,37.4 L242.0,37.9 L243.7,37.7 L246.0,37.1 L248.1,37.5 L249.9,37.1 L251.6,36.3 L254.0,37.1 L256.0,37.0 L258.1,36.2 L260.0,36.6 L261.8,36.0 L263.6,36.3 L265.5,35.8 L267.2,35.8 L269.0,35.6 L271.2,36.0 L273.3,36.2 L274.6,35.8 L276.4,36.3 L278.7,36.5 L280.8,35.5 L282.4,35.7 L284.0,35.9 L286.0,36.0 L288.3,35.3 L289.8,35.5 L292.0,35.3 L293.5,36.1 L295.7,36.2 L297.6,35.3 L299.0,35.5 L301.1,35.7 L302.7,35.6 L304.2,35.9 L306.3,36.2 L308.2,35.7 L309.8,35.6 L311.5,35.5 L313.6,35.5 L315.2,35.4 L317.3,35.5 L319.1,35.9 L320.7,36.0 L322.9,36.0 L324.7,35.4 L326.6,35.0 L328.1,35.7 L330.1,35.3 L332.0,35.9 L334.0,35.8 L335.6,35.4 L337.4,35.5 L339.4,34.9 L341.5,34.8 L343.0,35.0 L345.1,35.7 L346.8,35.1 L348.8,35.2 L350.4,35.0 L352.5,35.0 L354.4,35.1 L356.6,35.0 L358.2,35.4 L360.1,35.5 L361.7,35.0 L363.3,35.3 L365.2,34.9 L367.0,34.9 L369.3,34.6 L371.1,35.0 L372.5,34.6 L374.4,34.5 L376.5,34.5 L378.2,34.9 L380.0,34.2 L381.6,34.7 L383.4,34.8 L385.6,34.7 L387.3,34.7 L389.4,34.5 L390.9,35.0 L392.4,34.3 L394.7,34.4 L396.4,34.7 L398.5,34.6 L399.9,34.5 L401.9,34.1 L403.4,34.1 L405.3,34.9 L407.3,34.4 L409.0,34.0 L410.7,34.3 L412.6,34.0 L414.3,34.9 L416.4,34.2 L418.2,33.9 L419.9,34.2 L422.0,33.9 L423.7,34.0 L425.3,34.3 L427.3,34.0 L429.3,33.9 L431.0,34.8 L432.8,34.6 L434.5,34.1 L436.2,34.5 L438.4,34.2 L439.7,34.6 L441.6,34.1 L443.6,34.5 L445.2,34.0 L447.0,34.1 L449.0,34.6 L451.2,34.1 L452.4,34.6 L454.8,34.0 L456.7,34.2 L458.0,34.4 L460.0,33.6 L462.0,34.4 L463.8,33.6 L465.7,34.0 L467.4,34.1 L469.4,33.9 L471.0,33.9 L472.4,33.8 L474.6,34.0 L476.1,34.5 L477.9,34.4 L479.9,34.1 L482.1,34.1 L484.0,34.2 L485.4,34.1 L487.8,34.4 L489.2,34.0 L491.4,34.0 L492.9,34.2 L495.0,33.7 L497.0,34.2 L498.6,33.6 L500.7,33.7 L502.4,33.6 L504.7,34.4 L506.7,34.4 L508.3,34.4 L510.1,33.9 L512.0,34.0" stroke="#800080"/>
<path d="M72.9,33.0 L73.1,31.1 L73.5,28.9 L74.5,28.4 L74.9,29.6 L75.5,32.0 L77.8,32.4 L80.0,33.8 L82.5,35.0 L85.0,35.4 L87.2,35.3 L89.3,35.9 L91.1,35.6 L92.7,36.0 L95.0,36.7 L96.8,37.7 L98.2,39.3 L100.2,39.2 L102.0,40.5 L103.6,41.5 L104.8,41.8 L107.3,42.9 L108.8,44.7 L110.4,46.0 L111.9,47.8 L112.8,49.5 L114.2,50.1 L115.0,52.5 L115.7,53.5 L116.7,56.5 L118.2,58.3 L118.8,59.6 L120.1,62.3 L120.7,63.6 L121.6,65.9 L122.4,67.9 L123.4,68.7 L124.0,70.7 L124.7,72.8 L125.7,75.0 L126.8,77.6 L127.6,79.6 L127.8,82.5 L128.8,83.5 L130.5,85.9 L131.2,87.1 L132.3,88.8 L133.2,91.6 L133.4,93.5 L134.0,95.5 L134.6,97.6 L135.2,100.2 L136.4,98.5 L137.7,98.2 L139.5,99.0 L141.7,100.9 L142.3,98.6 L143.0,97.0 L144.2,95.4 L144.9,93.7 L146.4,92.5 L147.1,91.1 L148.4,89.6 L149.4,86.6 L150.4,84.8 L151.6,83.2 L151.8,80.3 L152.9,77.9 L153.1,75.4 L153.4,72.1 L156.1,70.8 L157.5,69.4 L159.1,68.6 L159.3,66.4 L160.1,65.0 L160.7,63.4 L162.4,60.5 L164.2,58.9 L165.6,58.0 L166.5,56.7 L167.8,55.5 L169.4,54.4 L170.0,52.8 L171.0,51.5 L173.5,51.5 L176.1,49.1 L177.9,46.7 L179.7,46.2 L180.7,44.1 L183.2,43.4 L186.5,43.8 L189.7,43.0 L193.0,40.8 L194.7,40.2 L196.8,39.3 L198.6,38.9 L200.2,38.5 L202.3,38.4 L204.0,38.3 L206.1,38.0 L208.0,36.6 L210.2,37.1 L211.6,36.9 L214.5,36.7 L217.0,36.6 L218.7,36.4 L220.8,36.3 L222.8,35.3 L224.7,36.1 L226.9,35.8 L228.5,35.9 L230.2,35.8 L232.1,35.4 L234.5,35.2 L236.1,35.1 L238.0,34.9 L240.2,34.8 L242.0,35.4 L243.7,35.6 L245.3,35.3 L247.2,35.3 L249.2,34.7 L251.2,35.4 L252.8,34.9 L254.6,35.0 L256.6,34.9 L258.3,35.3 L260.1,34.7 L262.1,34.6 L263.8,35.0 L265.7,34.7 L267.0,34.4 L269.4,34.3 L270.8,35.3 L272.8,34.8 L274.4,35.3 L276.3,35.0 L278.5,34.6 L279.8,35.0 L281.9,34.4 L283.7,34.8 L285.5,34.9 L287.3,35.2 L289.0,34.4 L290.8,34.8 L292.4,34.7 L294.6,34.4 L296.4,34.7 L298.2,35.2 L300.3,34.9 L301.6,35.1 L303.9,35.0 L305.5,34.6 L307.2,34.6 L309.0,34.4 L311.1,34.4 L313.0,34.8 L314.5,34.3 L316.6,35.1 L318.1,34.7 L319.8,35.1 L321.8,34.9 L323.9,34.8 L325.7,34.7 L327.0,34.9 L329.2,34.3 L331.0,34.2 L332.5,34.2 L334.4,34.5 L336.5,34.5 L338.2,34.0 L340.1,34.2 L342.0,33.9 L343.4,34.5 L345.4,34.8 L347.4,34.7 L349.4,34.0 L350.9,34.0 L352.5,34.7 L354.3,34.1 L356.7,34.4 L358.1,34.4 L359.8,33.7 L361.9,33.6 L363.3,34.2 L365.3,33.9 L367.3,33.8 L369.2,34.2 L370.7,33.9 L372.9,33.6 L374.4,34.1 L376.3,34.1 L378.0,33.5 L379.9,34.2 L381.8,34.4 L383.9,34.5 L385.4,33.9 L386.9,34.3 L388.9,33.9 L390.8,34.0 L392.8,34.5 L394.6,33.6 L396.1,34.2 L398.1,33.8 L399.7,33.5 L401.9,34.2 L403.9,34.2 L406.0,34.4 L408.3,34.6 L409.8,34.9 L412.1,34.3 L413.9,34.9 L416.0,34.5 L418.1,34.9 L420.0,34.7 L422.2,33.9 L424.1,32.5 L426.1,32.8 L428.0,32.9 L429.8,32.5 L431.7,32.3 L433.9,33.5 L435.9,33.3 L438.3,33.4 L440.0,33.7 L442.8,33.9 L444.7,34.5 L447.2,34.9 L450.3,35.2 L452.7,35.1 L455.3,34.7 L457.5,35.2 L459.7,35.0 L462.6,33.9 L465.1,34.6 L467.5,34.6 L470.1,34.2 L472.5,33.6 L475.1,33.8 L477.7,33.9 L479.8,34.3 L482.6,33.8 L484.8,34.1 L487.3,33.5 L489.8,33.8 L492.5,33.3 L494.9,34.2 L497.5,33.1 L499.9,32.8 L502.6,33.3 L505.0,34.0 L507.3,32.9 L510.0,32.8 L512.0,33.2" stroke="#800000"/>
</g>
<rect x="68.0" y="12.0" width="470.8" height="236.0" fill="none" stroke="#000" stroke-width="2"/>
<g stroke="#000" stroke-width="1.7">
<line x1="68.00" y1="248.0" x2="68.00" y2="240.50"/>
<line x1="68.00" y1="12.0" x2="68.00" y2="19.50"/>
<line x1="123.39" y1="248.0" x2="123.39" y2="243.80"/>
<line x1="123.39" y1="12.0" x2="123.39" y2="16.20"/>
<line x1="178.78" y1="248.0" x2="178.78" y2="240.50"/>
<line x1="178.78" y1="12.0" x2="178.78" y2="19.50"/>
<line x1="234.16" y1="248.0" x2="234.16" y2="243.80"/>
<line x1="234.16" y1="12.0" x2="234.16" y2="16.20"/>
<line x1="289.55" y1="248.0" x2="289.55" y2="240.50"/>
<line x1="289.55" y1="12.0" x2="289.55" y2="19.50"/>
<line x1="344.94" y1="248.0" x2="344.94" y2="243.80"/>
<line x1="344.94" y1="12.0" x2="344.94" y2="16.20"/>
<line x1="400.33" y1="248.0" x2="400.33" y2="240.50"/>
<line x1="400.33" y1="12.0" x2="400.33" y2="19.50"/>
<line x1="455.72" y1="248.0" x2="455.72" y2="243.80"/>
<line x1="455.72" y1="12.0" x2="455.72" y2="16.20"/>
<line x1="511.11" y1="248.0" x2="511.11" y2="240.50"/>
<line x1="511.11" y1="12.0" x2="511.11" y2="19.50"/>
<line x1="68.0" y1="248.00" x2="75.50" y2="248.00"/>
<line x1="538.8" y1="248.00" x2="531.30" y2="248.00"/>
<line x1="68.0" y1="226.55" x2="72.20" y2="226.55"/>
<line x1="538.8" y1="226.55" x2="534.60" y2="226.55"/>
<line x1="68.0" y1="205.09" x2="75.50" y2="205.09"/>
<line x1="538.8" y1="205.09" x2="531.30" y2="205.09"/>
<line x1="68.0" y1="183.64" x2="72.20" y2="183.64"/>
<line x1="538.8" y1="183.64" x2="534.60" y2="183.64"/>
<line x1="68.0" y1="162.18" x2="75.50" y2="162.18"/>
<line x1="538.8" y1="162.18" x2="531.30" y2="162.18"/>
<line x1="68.0" y1="140.73" x2="72.20" y2="140.73"/>
<line x1="538.8" y1="140.73" x2="534.60" y2="140.73"/>
<line x1="68.0" y1="119.27" x2="75.50" y2="119.27"/>
<line x1="538.8" y1="119.27" x2="531.30" y2="119.27"/>
<line x1="68.0" y1="97.82" x2="72.20" y2="97.82"/>
<line x1="538.8" y1="97.82" x2="534.60" y2="97.82"/>
<line x1="68.0" y1="76.36" x2="75.50" y2="76.36"/>
<line x1="538.8" y1="76.36" x2="531.30" y2="76.36"/>
<line x1="68.0" y1="54.91" x2="72.20" y2="54.91"/>
<line x1="538.8" y1="54.91" x2="534.60" y2="54.91"/>
<line x1="68.0" y1="33.45" x2="75.50" y2="33.45"/>
<line x1="538.8" y1="33.45" x2="531.30" y2="33.45"/>
<line x1="68.0" y1="12.00" x2="72.20" y2="12.00"/>
<line x1="538.8" y1="12.00" x2="534.60" y2="12.00"/>
</g>
<text x="68.2" y="268" text-anchor="middle" class="tl">200</text>
<text x="179.0" y="268" text-anchor="middle" class="tl">400</text>
<text x="289.8" y="268" text-anchor="middle" class="tl">600</text>
<text x="400.5" y="268" text-anchor="middle" class="tl">800</text>
<text x="511.3" y="268" text-anchor="middle" class="tl">1000</text>
<text x="61" y="252.2" text-anchor="end" class="tl">0.0</text>
<text x="61" y="209.3" text-anchor="end" class="tl">0.2</text>
<text x="61" y="166.4" text-anchor="end" class="tl">0.4</text>
<text x="61" y="123.5" text-anchor="end" class="tl">0.6</text>
<text x="61" y="80.6" text-anchor="end" class="tl">0.8</text>
<text x="61" y="37.7" text-anchor="end" class="tl">1.0</text>
<g>
<line x1="258.2" y1="108.5" x2="151" y2="54.8" stroke="#000" stroke-width="1.6"/>
<polygon points="140.1,49.3 154.2,52.8 150.6,59" fill="#000"/>
<text x="0" y="0" transform="translate(266,115.6) skewX(-12)" style="font-family:'Liberation Serif',serif;font-style:italic;font-size:16px;">&#952;</text>
</g>
<text x="0" y="0" transform="translate(475,59.8) skewX(-12)" class="th">&#952;</text>
<line x1="443.2" y1="70.80" x2="473.2" y2="70.80" stroke="#000000" stroke-width="2.7" stroke-linecap="round"/>
<text x="476.5" y="75.50" class="lg">20&#176;</text>
<line x1="443.2" y1="87.22" x2="473.2" y2="87.22" stroke="#ff0000" stroke-width="2.7" stroke-linecap="round"/>
<text x="476.5" y="91.92" class="lg">25&#176;</text>
<line x1="443.2" y1="103.64" x2="473.2" y2="103.64" stroke="#00ff00" stroke-width="2.7" stroke-linecap="round"/>
<text x="476.5" y="108.34" class="lg">30&#176;</text>
<line x1="443.2" y1="120.06" x2="473.2" y2="120.06" stroke="#0000ff" stroke-width="2.7" stroke-linecap="round"/>
<text x="476.5" y="124.76" class="lg">35&#176;</text>
<line x1="443.2" y1="136.48" x2="473.2" y2="136.48" stroke="#00ffff" stroke-width="2.7" stroke-linecap="round"/>
<text x="476.5" y="141.18" class="lg">40&#176;</text>
<line x1="443.2" y1="152.90" x2="473.2" y2="152.90" stroke="#ff00ff" stroke-width="2.7" stroke-linecap="round"/>
<text x="476.5" y="157.60" class="lg">45&#176;</text>
<line x1="443.2" y1="169.32" x2="473.2" y2="169.32" stroke="#ffff00" stroke-width="2.7" stroke-linecap="round"/>
<text x="476.5" y="174.02" class="lg">50&#176;</text>
<line x1="443.2" y1="185.74" x2="473.2" y2="185.74" stroke="#808000" stroke-width="2.7" stroke-linecap="round"/>
<text x="476.5" y="190.44" class="lg">55&#176;</text>
<line x1="443.2" y1="202.16" x2="473.2" y2="202.16" stroke="#000080" stroke-width="2.7" stroke-linecap="round"/>
<text x="476.5" y="206.86" class="lg">60&#176;</text>
<line x1="443.2" y1="218.58" x2="473.2" y2="218.58" stroke="#800080" stroke-width="2.7" stroke-linecap="round"/>
<text x="476.5" y="223.28" class="lg">65&#176;</text>
<line x1="443.2" y1="235.00" x2="473.2" y2="235.00" stroke="#800000" stroke-width="2.7" stroke-linecap="round"/>
<text x="476.5" y="239.70" class="lg">70&#176;</text>
<text x="0" y="0" transform="translate(277,300.6) skewX(-8)" style="font-family:'Liberation Serif',serif;font-style:italic;font-size:19.8px;">&#955;</text>
<text x="291.3" y="300" style="font-family:'Liberation Sans',sans-serif;font-size:19px;">(nm)</text>
<g transform="translate(21.3,153.5) rotate(-90)">
<text x="0" y="0" style="font-family:'Liberation Sans',sans-serif;font-style:italic;font-size:19.2px;">P</text>
<text x="11.8" y="8.4" style="font-family:'Liberation Sans',sans-serif;font-size:10.4px;">&#916;</text>
</g>
</svg>
</body></html>
